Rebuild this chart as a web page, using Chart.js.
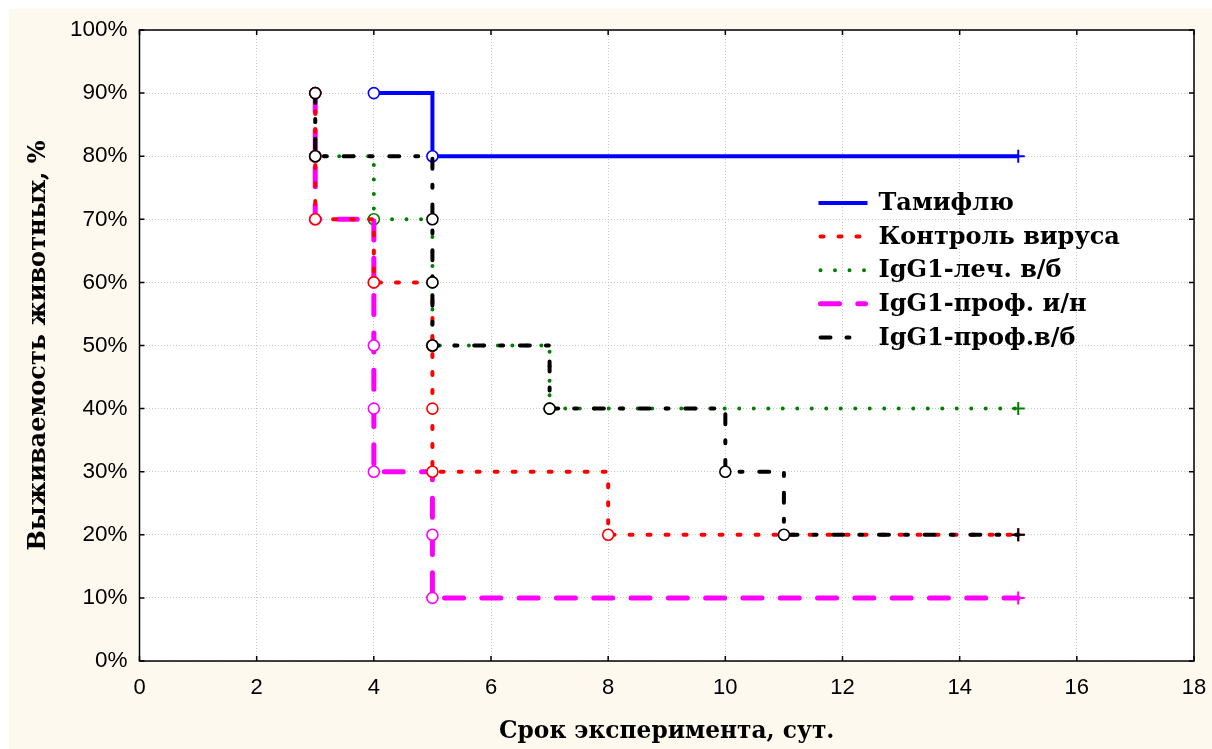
<!DOCTYPE html>
<html lang="ru">
<head>
<meta charset="utf-8">
<title>Выживаемость животных</title>
<script src="https://cdn.jsdelivr.net/npm/chart.js@4.4.1/dist/chart.umd.min.js"></script>
<style>
  html, body { margin: 0; padding: 0; background: #fff; }
  #caixa { width: 1212px; height: 749px; }
</style>
</head>
<body>
<div id="caixa"><canvas id="graficoSobrevivencia"></canvas></div>
<script>
// Группы (порядок как в легенде)
const grupos = ['Тамифлю', 'Контроль вируса', 'IgG1-леч. в/б', 'IgG1-проф. и/н', 'IgG1-проф.в/б'];

// Сутки гибели и выживаемость, %; последняя точка каждой группы - цензурирование (+)
const diasTamiflu = [4, 5, 15];
const survTamiflu = [90, 80, 80];

const diasControle = [3, 3, 3, 4, 5, 5, 5, 8, 15];
const survControle = [90, 80, 70, 60, 50, 40, 30, 20, 20];

const diasTratamento = [3, 3, 4, 5, 5, 7, 15];
const survTratamento = [90, 80, 70, 60, 50, 40, 40];

const diasProfIn = [3, 3, 3, 4, 4, 4, 4, 5, 5, 15];
const survProfIn = [90, 80, 70, 60, 50, 40, 30, 20, 10, 10];

const diasProfIv = [3, 3, 5, 5, 5, 7, 10, 11, 15];
const survProfIv = [90, 80, 70, 60, 50, 40, 30, 20, 20];

// Деления осей
const ticksX = [0, 2, 4, 6, 8, 10, 12, 14, 16, 18];
const ticksY = [0, 10, 20, 30, 40, 50, 60, 70, 80, 90, 100];

// Стиль линий
const cores = ['#0000ff', '#ff0000', '#008000', '#ff00ff', '#000000'];
const tracos = [[], [3, 15], [0, 14.5], [19, 18.3], [10, 16, 3, 16.7]];
const espessuras = [4, 4, 4, 5, 4];
const ordem = [1, 2, 4, 3, 0]; // черная поверх всех

const fonteSerif = '"DejaVu Serif", "Liberation Serif", serif';
const fonteSans = '"Liberation Sans", Arial, sans-serif';

function montaPontos(dias, surv) {
    return dias.map((d, i) => ({ x: d, y: surv[i] }));
}

function montaDataset(i, dias, surv) {
    const ultimo = dias.length - 1;
    return {
        label: grupos[i],
        data: montaPontos(dias, surv),
        stepped: 'before', // сначала по горизонтали, потом вниз
        fill: false,
        borderColor: cores[i],
        borderWidth: espessuras[i],
        borderDash: tracos[i],
        borderCapStyle: i === 0 ? 'butt' : 'round',
        borderJoinStyle: i === 0 ? 'miter' : 'round',
        pointStyle: dias.map((d, k) => k === ultimo ? 'cross' : 'circle'),
        pointRadius: dias.map((d, k) => k === ultimo ? 6.5 : 5.5),
        pointBorderWidth: dias.map((d, k) => k === ultimo ? 2 : 1.6),
        pointBackgroundColor: '#ffffff',
        pointBorderColor: cores[i],
        order: ordem[i]
    };
}

// Фон: кремовая подложка и белое поле графика
const fundoPlugin = {
    id: 'fundo',
    beforeDraw(chart) {
        const { ctx, chartArea: a, width, height } = chart;
        ctx.save();
        ctx.fillStyle = '#ffffff';
        ctx.fillRect(0, 0, width, height);
        ctx.fillStyle = '#fdf9ef';
        ctx.fillRect(9, 9, width - 9, height - 9);
        ctx.fillStyle = '#ffffff';
        ctx.fillRect(a.left, a.top, a.right - a.left, a.bottom - a.top);
        ctx.restore();
    }
};

// Рамка и внутренние засечки на всех четырех сторонах
const molduraPlugin = {
    id: 'moldura',
    afterDatasetsDraw(chart) {
        const { ctx, chartArea: a, scales } = chart;
        const t = 5;
        ctx.save();
        ctx.strokeStyle = '#000';
        ctx.lineWidth = 1.5;
        ctx.setLineDash([]);
        ctx.strokeRect(a.left, a.top, a.right - a.left, a.bottom - a.top);
        ctx.beginPath();
        ticksX.forEach(v => {
            const x = scales.x.getPixelForValue(v);
            ctx.moveTo(x, a.bottom); ctx.lineTo(x, a.bottom - t);
            ctx.moveTo(x, a.top); ctx.lineTo(x, a.top + t);
        });
        ticksY.forEach(v => {
            const y = scales.y.getPixelForValue(v);
            ctx.moveTo(a.left, y); ctx.lineTo(a.left + t, y);
            ctx.moveTo(a.right, y); ctx.lineTo(a.right - t, y);
        });
        ctx.stroke();
        ctx.restore();
    }
};

// Легенда внутри поля графика
const legendaPlugin = {
    id: 'legenda',
    afterDraw(chart) {
        const { ctx, chartArea: a } = chart;
        const x0 = a.left + 681;
        const x1 = a.left + 726;
        const xt = a.left + 739;
        const y0 = a.top + 173;
        const passo = 33.6;
        ctx.save();
        ctx.font = 'bold 24px ' + fonteSerif;
        ctx.textBaseline = 'middle';
        ctx.textAlign = 'left';
        grupos.forEach((nome, i) => {
            const y = y0 + i * passo;
            ctx.beginPath();
            ctx.strokeStyle = cores[i];
            ctx.lineWidth = espessuras[i];
            ctx.lineCap = i === 0 ? 'butt' : 'round';
            ctx.setLineDash(tracos[i]);
            ctx.moveTo(i === 0 ? x0 - 2 : x0, y);
            ctx.lineTo(i === 0 ? x1 + 2 : x1, y);
            ctx.stroke();
            ctx.setLineDash([]);
            ctx.fillStyle = '#000';
            ctx.fillText(nome, xt, y + 1);
        });
        ctx.restore();
    }
};

const ctx = document.getElementById('graficoSobrevivencia').getContext('2d');

const grafico = new Chart(ctx, {
    type: 'line',
    data: {
        datasets: [
            montaDataset(0, diasTamiflu, survTamiflu),
            montaDataset(1, diasControle, survControle),
            montaDataset(2, diasTratamento, survTratamento),
            montaDataset(3, diasProfIn, survProfIn),
            montaDataset(4, diasProfIv, survProfIv)
        ]
    },
    options: {
        responsive: true,
        maintainAspectRatio: false,
        animation: false,
        events: [],
        layout: { padding: { top: 30, right: 18, left: 0, bottom: 0 } },
        plugins: {
            legend: { display: false },
            tooltip: { enabled: false }
        },
        scales: {
            x: {
                type: 'linear',
                min: 0,
                max: 18,
                afterBuildTicks: (scale) => { scale.ticks = ticksX.map(v => ({ value: v })); },
                afterFit: (scale) => {
                    scale.height = 88;
                    scale.paddingLeft = 0;
                    scale.paddingRight = 0;
                },
                grid: { color: '#c8c8c8', lineWidth: 1, drawTicks: false },
                border: { display: false, dash: [1, 2] },
                ticks: {
                    padding: 14,
                    color: '#000',
                    font: { family: fonteSans, size: 22 }
                },
                title: {
                    display: true,
                    text: 'Срок эксперимента, сут.',
                    color: '#000',
                    font: { family: fonteSerif, size: 23.3, weight: 'bold' },
                    padding: { top: 0, bottom: 3 }
                }
            },
            y: {
                min: 0,
                max: 100,
                afterBuildTicks: (scale) => { scale.ticks = ticksY.map(v => ({ value: v })); },
                afterFit: (scale) => {
                    scale.width = 139.5;
                    scale.paddingTop = 0;
                    scale.paddingBottom = 0;
                },
                grid: { color: '#c8c8c8', lineWidth: 1, drawTicks: false },
                border: { display: false, dash: [1, 2] },
                ticks: {
                    padding: 12,
                    color: '#000',
                    font: { family: fonteSans, size: 22.5 },
                    callback: (v) => v + '%'
                },
                title: {
                    display: true,
                    text: 'Выживаемость животных, %',
                    color: '#000',
                    font: { family: fonteSerif, size: 24, weight: 'bold' },
                    padding: { top: 24, bottom: 0 }
                }
            }
        }
    },
    plugins: [fundoPlugin, molduraPlugin, legendaPlugin]
});
</script>
</body>
</html>
